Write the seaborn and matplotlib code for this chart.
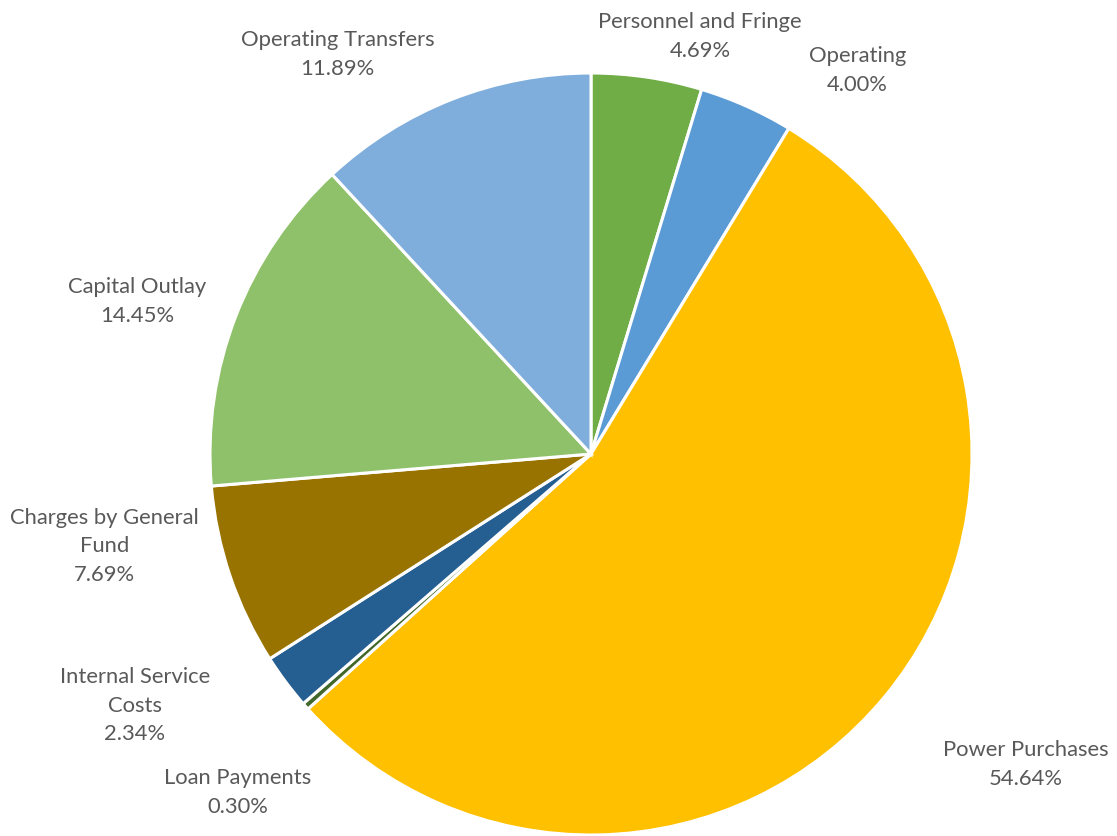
import matplotlib
matplotlib.use("Agg")
import matplotlib.pyplot as plt
import seaborn as sns

sns.set_theme(style="white")
plt.rcParams['font.family'] = ['Lato', 'DejaVu Sans']

categories = ["Personnel and Fringe", "Operating", "Power Purchases", "Loan Payments",
              "Internal Service Costs", "Charges by General Fund", "Capital Outlay",
              "Operating Transfers"]
label_text = ["Personnel and Fringe", "Operating", "Power Purchases", "Loan Payments",
              "Internal Service\nCosts", "Charges by General\nFund", "Capital Outlay",
              "Operating Transfers"]
values = [4.69, 4.00, 54.64, 0.30, 2.34, 7.69, 14.45, 11.89]
colors = ["#70AD47", "#5B9BD5", "#FFC000", "#43682B", "#255E91", "#997300", "#8FC16A", "#7FAEDD"]

# label anchor positions (offsets from pie centre, in radius units)
label_pos = [(0.286, 1.099), (0.70, 1.01), (1.14, -0.813), (-0.927, -0.885),
             (-1.197, -0.658), (-1.276, -0.24), (-1.19, 0.403), (-0.665, 1.052)]

W, H, DPI = 1117, 837, 100
fig = plt.figure(figsize=(W / DPI, H / DPI), dpi=DPI)
ax = fig.add_axes([0, 0, 1, 1])

cx, cy, R = 591, 455, 381
ax.pie(values, colors=colors, startangle=90, counterclock=False, radius=1,
       wedgeprops=dict(edgecolor="white", linewidth=2.2))
ax.set_aspect('auto')
ax.set_xlim(-cx / R, (W - cx) / R)
ax.set_ylim(-(H - cy) / R, cy / R)
ax.axis('off')

for txt, v, (x, y) in zip(label_text, values, label_pos):
    ax.text(x, y, f"{txt}\n{v:.2f}%", ha="center", va="center", fontsize=15.8,
            color="#595959", linespacing=1.55)

fig.savefig("out.png", dpi=DPI, facecolor="white")
